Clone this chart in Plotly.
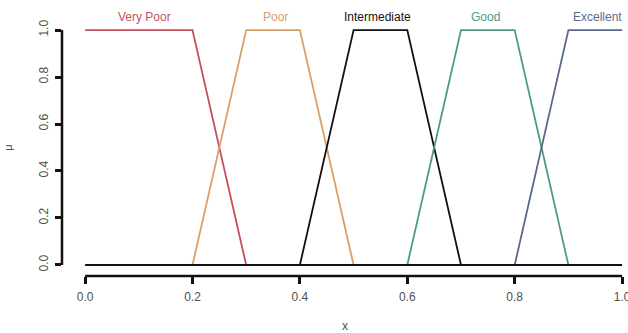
import plotly.graph_objects as go

# Trapezoidal membership functions
categories = ["Very Poor", "Poor", "Intermediate", "Good", "Excellent"]
x_very_poor = [0.0, 0.2, 0.3]
y_very_poor = [1.0, 1.0, 0.0]
x_poor = [0.2, 0.3, 0.4, 0.5]
y_poor = [0.0, 1.0, 1.0, 0.0]
x_intermediate = [0.4, 0.5, 0.6, 0.7]
y_intermediate = [0.0, 1.0, 1.0, 0.0]
x_good = [0.6, 0.7, 0.8, 0.9]
y_good = [0.0, 1.0, 1.0, 0.0]
x_excellent = [0.8, 0.9, 1.0]
y_excellent = [0.0, 1.0, 1.0]
baseline_x = [0.0, 1.0]
baseline_y = [0.0, 0.0]
label_x = [0.11, 0.355, 0.545, 0.745, 0.955]
colors = ["#c4505e", "#d8a068", "#111111", "#4e9a84", "#5a6890"]
tick_vals = [0.0, 0.2, 0.4, 0.6, 0.8, 1.0]
tick_text = ["0.0", "0.2", "0.4", "0.6", "0.8", "1.0"]

series = [
    (x_very_poor, y_very_poor),
    (x_poor, y_poor),
    (x_intermediate, y_intermediate),
    (x_good, y_good),
    (x_excellent, y_excellent),
]

fig = go.Figure()
for (xs, ys), name, col in zip(series, categories, colors):
    fig.add_trace(go.Scatter(x=xs, y=ys, mode="lines", name=name,
                             line=dict(color=col, width=1.8), cliponaxis=False))
fig.add_trace(go.Scatter(x=baseline_x, y=baseline_y, mode="lines",
                         line=dict(color="#111111", width=2), cliponaxis=False))

for lx, name, col in zip(label_x, categories, colors):
    fig.add_annotation(x=lx, y=1, xref="x", yref="paper", yanchor="middle",
                       yshift=2, text=name, showarrow=False,
                       font=dict(color=col, size=12,
                                 family="Liberation Sans, Arial, sans-serif"))

# R-style axis lines spanning only the tick range
fig.add_shape(type="line", xref="x", yref="paper", x0=tick_vals[0], x1=tick_vals[-1],
              y0=0, y1=0, line=dict(color="#111111", width=2.5))
fig.add_shape(type="line", xref="paper", yref="y", x0=0, x1=0,
              y0=tick_vals[0], y1=tick_vals[-1], line=dict(color="#111111", width=2.5))

font = dict(family="Liberation Sans, Arial, sans-serif", size=12, color="#505050")
fig.update_layout(
    width=628, height=333,
    margin=dict(l=62, r=0, t=19, b=57),
    paper_bgcolor="white", plot_bgcolor="white",
    showlegend=False,
    font=font,
    xaxis=dict(range=[-0.043, 1.011], tickvals=tick_vals, ticktext=tick_text,
               ticks="outside", ticklen=7, tickwidth=2.5, tickcolor="#111111",
               showgrid=False, zeroline=False, showline=False, automargin=False,
               ticklabeloverflow="allow", ticklabelstandoff=3,
               title=dict(text="x", standoff=18, font=dict(size=12, color="#505050")),
               tickfont=font),
    yaxis=dict(range=[-0.047, 1.047], tickvals=tick_vals, ticktext=tick_text,
               ticks="outside", ticklen=6, tickwidth=2.5, tickcolor="#111111",
               tickangle=-90, showgrid=False, zeroline=False, showline=False,
               automargin=False, ticklabelstandoff=2,
               title=dict(text="μ", standoff=22, font=dict(size=11, color="#505050")),
               tickfont=font),
)
fig.write_html("out.html", config={"displayModeBar": False},
               post_script="document.body.style.margin='0px';")
